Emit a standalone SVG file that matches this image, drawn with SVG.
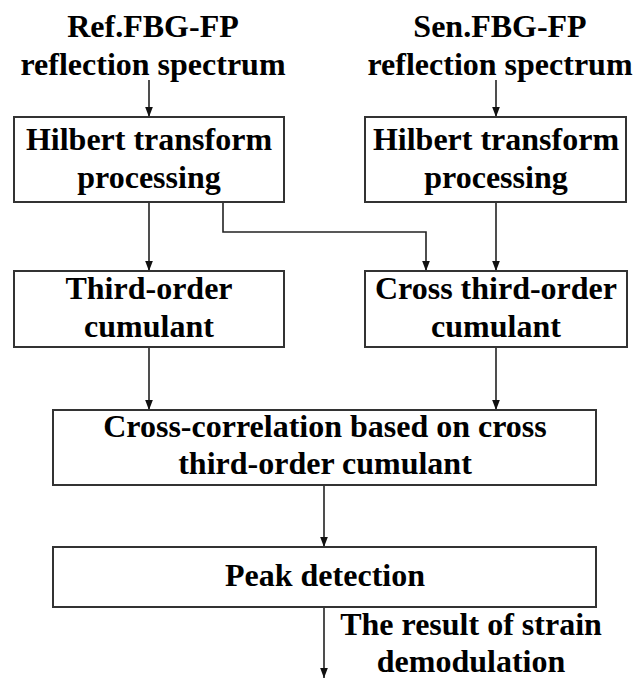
<svg xmlns="http://www.w3.org/2000/svg" width="636" height="678" viewBox="0 0 636 678">
<style>
.box{fill:#fff;stroke:#333;stroke-width:2}
.t{font-family:"Liberation Serif","Times New Roman",serif;font-weight:bold;font-size:32px;fill:#000;text-anchor:middle}
.c{fill:none;stroke:#222;stroke-width:1.6}
</style>
<defs>
<marker id="ah" markerUnits="userSpaceOnUse" markerWidth="10" markerHeight="14" refX="13" refY="5" orient="auto" viewBox="0 0 13 10">
<path d="M0,0 L13,5 L0,10 z" fill="#111"/>
</marker>
</defs>
<rect width="636" height="678" fill="#fff"/>
<g id="connectors">
<path class="c" d="M149,80 V117" marker-end="url(#ah)"/>
<path class="c" d="M496,80 V117" marker-end="url(#ah)"/>
<path class="c" d="M149,202 V271" marker-end="url(#ah)"/>
<path class="c" d="M496,202 V271" marker-end="url(#ah)"/>
<path class="c" d="M223,202 V232 H426 V271" marker-end="url(#ah)"/>
<path class="c" d="M149,347 V410" marker-end="url(#ah)"/>
<path class="c" d="M496,347 V410" marker-end="url(#ah)"/>
<path class="c" d="M324,485 V547" marker-end="url(#ah)"/>
<path class="c" d="M324,607 V678" marker-end="url(#ah)"/>
</g>
<g id="ref-input">
<text class="t" x="153" y="37">Ref.FBG-FP</text>
<text class="t" x="153" y="75">reflection spectrum</text>
</g>
<g id="sen-input">
<text class="t" x="500" y="37">Sen.FBG-FP</text>
<text class="t" x="500" y="75">reflection spectrum</text>
</g>
<g id="hilbert-ref">
<rect class="box" x="14" y="117" width="270" height="85"/>
<text class="t" x="149" y="150">Hilbert transform</text>
<text class="t" x="149" y="188">processing</text>
</g>
<g id="hilbert-sen">
<rect class="box" x="365" y="117" width="261" height="85"/>
<text class="t" x="496" y="150">Hilbert transform</text>
<text class="t" x="496" y="188">processing</text>
</g>
<g id="third-order">
<rect class="box" x="14" y="271" width="270" height="76"/>
<text class="t" x="149" y="299">Third-order</text>
<text class="t" x="149" y="337">cumulant</text>
</g>
<g id="cross-third-order">
<rect class="box" x="365" y="271" width="262" height="76"/>
<text class="t" x="496" y="299">Cross third-order</text>
<text class="t" x="496" y="337">cumulant</text>
</g>
<g id="cross-correlation">
<rect class="box" x="53" y="410" width="543" height="75"/>
<text class="t" x="325" y="437">Cross-correlation based on cross</text>
<text class="t" x="325" y="474">third-order cumulant</text>
</g>
<g id="peak-detection">
<rect class="box" x="53" y="547" width="543" height="60"/>
<text class="t" x="325" y="586">Peak detection</text>
</g>
<g id="result">
<text class="t" x="471" y="635">The result of strain</text>
<text class="t" x="471" y="672">demodulation</text>
</g>
</svg>
